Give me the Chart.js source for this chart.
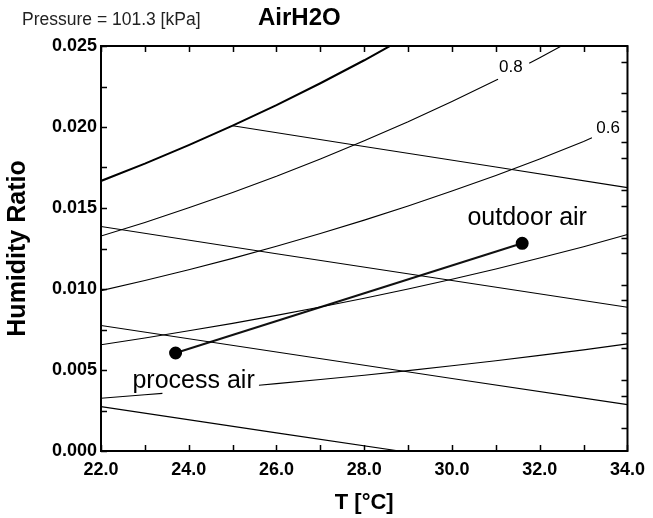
<!DOCTYPE html>
<html>
<head>
<meta charset="utf-8">
<title>AirH2O</title>
<script src="https://cdn.jsdelivr.net/npm/chart.js@4.4.1/dist/chart.umd.min.js"></script>
<style>
  body { margin: 0; background: #fff; }
</style>
</head>
<body>
<canvas id="myChart" width="653" height="518"></canvas>
<script>
// humidity ratio [kg/kg] vs dry bulb T [°C]
const chartTitle = 'AirH2O';
const pressureNote = 'Pressure = 101.3 [kPa]';

// relative humidity curves (null = break for the curve label)
const rhTemps = [22, 23, 24, 25, 26, 27, 28, 29, 30, 31, 32, 33, 34];
const rh100 = [0.01667, 0.01774, 0.01888, 0.02008, 0.02135, 0.02270, 0.02412, 0.02562];
const rh40 = [0.00656, 0.00698, 0.00742, 0.00788, 0.00837, 0.00889, 0.00943, 0.01000, 0.01060, 0.01124, 0.01191, 0.01261, 0.01336];

const rh80Temps = [22, 23, 24, 25, 26, 27, 28, 29, 30, 31, 31.05, 31.4, 31.76, 32, 33];
const rh80 = [0.01327, 0.01411, 0.01501, 0.01596, 0.01696, 0.01803, 0.01915, 0.02032, 0.02158, 0.02289, 0.02295, null, 0.02394, 0.02428, 0.02574];

const rh60Temps = [22, 23, 24, 25, 26, 27, 28, 29, 30, 31, 32, 33, 33.19];
const rh60 = [0.00990, 0.01053, 0.01119, 0.01189, 0.01264, 0.01342, 0.01425, 0.01512, 0.01605, 0.01701, 0.01803, 0.01911, 0.01933];

const rh20Temps = [22, 23, 23.4, 24.5, 25.6, 26, 27, 28, 29, 30, 31, 32, 33, 34];
const rh20 = [0.00326, 0.00347, 0.00356, null, 0.00406, 0.00416, 0.00441, 0.00468, 0.00496, 0.00526, 0.00557, 0.00590, 0.00624, 0.00661];

const rhLabels = ['0.8', '0.6'];

// wet bulb lines
const wb25Temps = [25, 28, 31, 34];
const wb25 = [0.02008, 0.01880, 0.01753, 0.01626];
const wbTemps = [22, 26, 30, 34];
const wb20 = [0.01386, 0.01218, 0.01052, 0.00887];
const wb15 = [0.00775, 0.00611, 0.00448, 0.00286];
const wb10Temps = [22, 26, 28.8];
const wb10 = [0.00274, 0.00112, 0];

// the two states
const stateNames = ['process air', 'outdoor air'];
const stateTemps = [23.7, 31.6];
const stateW = [0.00605, 0.01282];

// axis ticks
const xTicks = [22, 23, 24, 25, 26, 27, 28, 29, 30, 31, 32, 33, 34];
const yTicks = [0, 0.0025, 0.005, 0.0075, 0.01, 0.0125, 0.015, 0.0175, 0.02, 0.0225, 0.025];
const rightTicks = [0.0014, 0.0034, 0.00438, 0.00634, 0.00727, 0.00932, 0.01025, 0.0122, 0.01313, 0.01514, 0.01611, 0.0181, 0.01909, 0.02101, 0.02208, 0.02403];

const FONT = '"Liberation Sans", Arial, sans-serif';

function pts(xs, ys) {
  return ys.map((y, i) => ({ x: xs[i], y: y }));
}

function line(data, width) {
  return {
    data: data,
    showLine: true,
    borderColor: '#000',
    borderWidth: width || 1.1,
    pointRadius: 0,
    pointHoverRadius: 0,
    fill: false
  };
}

// box, inward ticks and the text on the plot
const decor = {
  id: 'decor',
  afterDatasetsDraw(chart) {
    const { ctx, chartArea: a, scales: { x, y } } = chart;
    ctx.save();
    ctx.strokeStyle = '#000';
    ctx.lineWidth = 1.5;
    ctx.beginPath();
    xTicks.forEach(v => {
      const px = Math.round(x.getPixelForValue(v)) + 0.5;
      ctx.moveTo(px, a.bottom); ctx.lineTo(px, a.bottom - 6);
      ctx.moveTo(px, a.top); ctx.lineTo(px, a.top + 6);
    });
    yTicks.forEach(v => {
      const py = Math.round(y.getPixelForValue(v)) + 0.5;
      ctx.moveTo(a.left, py); ctx.lineTo(a.left + 6, py);
    });
    rightTicks.forEach(v => {
      const py = Math.round(y.getPixelForValue(v)) + 0.5;
      ctx.moveTo(a.right, py); ctx.lineTo(a.right - 6, py);
    });
    ctx.stroke();
    ctx.lineWidth = 2;
    ctx.strokeRect(a.left, a.top, a.right - a.left, a.bottom - a.top);

    ctx.fillStyle = '#000';
    ctx.textAlign = 'center';
    ctx.textBaseline = 'middle';

    // curve labels
    ctx.font = '17px ' + FONT;
    ctx.fillText(rhLabels[0], x.getPixelForValue(31.34), y.getPixelForValue(0.02367));
    ctx.fillText(rhLabels[1], x.getPixelForValue(33.56), y.getPixelForValue(0.01991));

    // state labels
    ctx.font = '25px ' + FONT;
    const p0x = x.getPixelForValue(stateTemps[0]), p0y = y.getPixelForValue(stateW[0]);
    const p1x = x.getPixelForValue(stateTemps[1]), p1y = y.getPixelForValue(stateW[1]);
    ctx.fillText(stateNames[0], p0x + 18, p0y + 28);
    ctx.fillText(stateNames[1], p1x + 5, p1y - 25);

    // header
    ctx.textAlign = 'left';
    ctx.textBaseline = 'alphabetic';
    ctx.fillStyle = '#222';
    ctx.font = '17.5px ' + FONT;
    ctx.fillText(pressureNote, 22, 25);
    ctx.fillStyle = '#000';
    ctx.font = 'bold 24px ' + FONT;
    ctx.fillText(chartTitle, 258, 25);
    ctx.restore();
  }
};

const ctx = document.getElementById('myChart').getContext('2d');
const chart = new Chart(ctx, {
  type: 'scatter',
  data: {
    datasets: [
      line(pts(rhTemps, rh100), 2),
      line(pts(rh80Temps, rh80)),
      line(pts(rh60Temps, rh60)),
      line(pts(rhTemps, rh40)),
      line(pts(rh20Temps, rh20)),
      line(pts(wb25Temps, wb25)),
      line(pts(wbTemps, wb20)),
      line(pts(wbTemps, wb15)),
      line(pts(wb10Temps, wb10)),
      {
        data: pts(stateTemps, stateW),
        showLine: true,
        borderColor: '#111',
        borderWidth: 2,
        pointRadius: 5.5,
        pointBackgroundColor: '#000',
        pointBorderColor: '#000'
      }
    ]
  },
  options: {
    responsive: false,
    animation: false,
    devicePixelRatio: 1,
    layout: { padding: { top: 46, right: 20, left: 0, bottom: 0 } },
    plugins: {
      legend: { display: false },
      tooltip: { enabled: false }
    },
    scales: {
      x: {
        type: 'linear',
        min: 22,
        max: 34,
        grid: { display: false, drawTicks: false },
        border: { display: false },
        ticks: {
          stepSize: 2,
          padding: 8,
          maxRotation: 0,
          color: '#000',
          font: { family: FONT, size: 18, weight: 'bold' },
          callback: v => v.toFixed(1)
        },
        title: {
          display: true,
          text: 'T [°C]',
          color: '#000',
          font: { family: FONT, size: 22, weight: 'bold' },
          padding: { top: 0, bottom: 2 }
        },
        afterFit: s => { s.height = 67; }
      },
      y: {
        min: 0,
        max: 0.025,
        grid: { display: false, drawTicks: false },
        border: { display: false },
        ticks: {
          stepSize: 0.005,
          padding: 4,
          color: '#000',
          font: { family: FONT, size: 18, weight: 'bold' },
          callback: v => v.toFixed(3)
        },
        title: {
          display: true,
          text: 'Humidity Ratio',
          color: '#000',
          font: { family: FONT, size: 25, weight: 'bold' },
          padding: { top: 3, bottom: 0 }
        },
        afterFit: s => { s.width = 101; }
      }
    }
  },
  plugins: [decor]
});
</script>
</body>
</html>
